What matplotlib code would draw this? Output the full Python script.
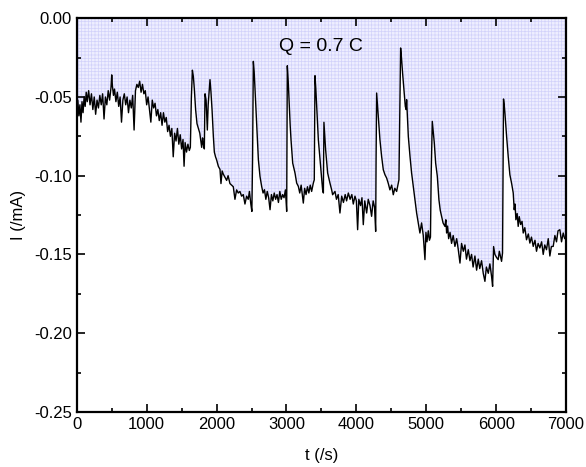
import matplotlib
matplotlib.use("Agg")
import matplotlib.pyplot as plt
from matplotlib.ticker import MultipleLocator

plt.rcParams['font.family'] = ['Liberation Sans', 'DejaVu Sans']
plt.rcParams['hatch.linewidth'] = 0.5

# chronoamperometry trace: time (s) and current (mA)
t = [0, 15, 30, 45, 60, 75, 90, 105, 120, 135, 150, 170, 190, 210, 230, 250,
     270, 290, 310, 330, 350, 370, 390, 410, 430, 450, 470, 490, 500, 510,
     525, 540, 560, 580, 600, 620, 640, 660, 680, 700, 720, 740, 760, 780,
     800, 820, 840, 860, 880, 900, 920, 940, 960, 980, 1000, 1020, 1040,
     1060, 1080, 1100, 1120, 1140, 1160, 1180, 1200, 1220,
     1240, 1260, 1280, 1300, 1320, 1340, 1360, 1380, 1400, 1420, 1440, 1460,
     1480, 1500, 1520, 1535, 1550, 1570, 1590, 1610, 1625, 1640, 1654, 1668,
     1682, 1700, 1720, 1740, 1760, 1787, 1800, 1811, 1825, 1835, 1850, 1868,
     1880, 1906, 1920, 1935, 1954, 1968, 1985, 2001, 2025, 2049, 2063, 2080,
     2096, 2120, 2144, 2165, 2191, 2215, 2239, 2263, 2287, 2310, 2334, 2358,
     2382, 2406, 2430, 2453,
     2470, 2490, 2505, 2515, 2526, 2538, 2550, 2562, 2574, 2586, 2598, 2621,
     2645, 2665, 2685, 2705, 2725, 2745, 2765, 2785, 2805, 2825, 2845, 2865,
     2885, 2905, 2925, 2945, 2965, 2985, 3003, 3012, 3025, 3041, 3053, 3065,
     3089, 3122, 3146, 3170, 3190, 3210, 3241, 3260, 3280, 3300, 3320, 3340,
     3360, 3384, 3398, 3408, 3420, 3432, 3456, 3480, 3503, 3517, 3528, 3536,
     3560, 3589, 3622, 3646, 3660, 3694,
     3715, 3740, 3765, 3790, 3815, 3840, 3860, 3885, 3910, 3935, 3956, 3980,
     4000, 4018, 4035, 4060, 4080, 4099, 4120, 4147, 4170, 4195, 4218, 4240,
     4260, 4276, 4282, 4290, 4300, 4314, 4337, 4361, 4385, 4409, 4433, 4457,
     4480, 4505, 4528, 4550, 4576, 4590, 4609, 4622, 4633, 4645, 4661, 4680,
     4700, 4712, 4719, 4730, 4743, 4767, 4790, 4814, 4838, 4862, 4886, 4909,
     4933, 4957, 4981, 4995, 5010, 5029, 5045, 5060, 5070, 5086, 5100, 5115,
     5134, 5158, 5181, 5200, 5219, 5240, 5267, 5280, 5291, 5305, 5320, 5340,
     5362, 5385, 5410, 5435, 5458, 5482, 5505, 5530, 5553, 5575, 5601, 5625,
     5648, 5670, 5696, 5720, 5744, 5765, 5791, 5815, 5839, 5860, 5887, 5910,
     5934, 5949, 5963, 5982,
     6006, 6029, 6045, 6060, 6077, 6091, 6098, 6105, 6115, 6125, 6149, 6172,
     6196, 6220, 6244, 6258, 6270, 6282, 6300, 6315, 6330, 6350, 6370, 6387,
     6410, 6434, 6460, 6482, 6505, 6530, 6555, 6577, 6600, 6625, 6650, 6673,
     6695, 6720, 6745, 6768, 6790, 6816, 6840, 6863, 6885, 6911, 6935, 6959,
     6980, 7000]

current = [-0.058, -0.052, -0.062, -0.055, -0.066, -0.053, -0.060, -0.050,
           -0.056, -0.047, -0.053, -0.046, -0.055, -0.048, -0.058, -0.050,
           -0.061, -0.052, -0.057, -0.049, -0.055, -0.048, -0.064, -0.050,
           -0.055, -0.046, -0.052, -0.044, -0.036, -0.043, -0.049, -0.045,
           -0.053, -0.047, -0.056, -0.050, -0.066, -0.052, -0.048, -0.055,
           -0.050, -0.060, -0.052, -0.057, -0.049, -0.071, -0.046, -0.042,
           -0.044, -0.040, -0.047, -0.042, -0.048, -0.046, -0.055, -0.050,
           -0.058, -0.066, -0.052, -0.057, -0.054, -0.062, -0.058, -0.065,
           -0.060, -0.068,
           -0.060, -0.066, -0.063, -0.072, -0.068, -0.075, -0.070, -0.088,
           -0.073, -0.078, -0.070, -0.080, -0.074, -0.083, -0.077, -0.094,
           -0.079, -0.085, -0.080, -0.084, -0.082, -0.050, -0.033, -0.037,
           -0.045, -0.058, -0.067, -0.070, -0.073, -0.082, -0.076, -0.080,
           -0.083, -0.048, -0.052, -0.071, -0.055, -0.039, -0.047, -0.058,
           -0.075, -0.085, -0.088, -0.090, -0.094, -0.096, -0.105, -0.097,
           -0.099, -0.101, -0.103, -0.100, -0.105, -0.106, -0.107, -0.115,
           -0.109, -0.111, -0.110, -0.113, -0.112, -0.118, -0.113, -0.115,
           -0.110, -0.118, -0.1227, -0.090, -0.0274, -0.034, -0.0454, -0.058,
           -0.0687, -0.080, -0.0898, -0.1004, -0.1068, -0.1110, -0.1089,
           -0.1150, -0.1100, -0.1140, -0.1216, -0.1120, -0.1160, -0.1110,
           -0.1150, -0.1120, -0.1170, -0.1100, -0.1150, -0.1120, -0.1140,
           -0.1090, -0.1227, -0.0302, -0.040, -0.0560, -0.068, -0.0772,
           -0.0920, -0.0983, -0.1047, -0.1068, -0.1110, -0.1060, -0.1174,
           -0.1080, -0.1120, -0.1070, -0.1110, -0.1060, -0.1100, -0.1047,
           -0.1026, -0.0365, -0.045, -0.0560, -0.0772, -0.0898, -0.1026,
           -0.1089, -0.1110, -0.0661, -0.0835, -0.0983, -0.1047, -0.1089,
           -0.1121, -0.1100,
           -0.1150, -0.1120, -0.1237, -0.1130, -0.1170, -0.1120, -0.1160,
           -0.1110, -0.1150, -0.1120, -0.1180, -0.1130, -0.1160, -0.1343,
           -0.1150, -0.1190, -0.1140, -0.1311, -0.1160, -0.1237, -0.1150,
           -0.1190, -0.1258, -0.1160, -0.1200, -0.1354, -0.090, -0.0475,
           -0.054, -0.0623, -0.0772, -0.0877, -0.0962, -0.0994, -0.1015,
           -0.1050, -0.1090, -0.1060, -0.1121, -0.1080, -0.1100, -0.1068,
           -0.1026, -0.060, -0.0189, -0.025, -0.0348, -0.0454, -0.0560,
           -0.058, -0.0517, -0.062, -0.0750, -0.0877, -0.0983, -0.1068,
           -0.1153, -0.1237, -0.1301, -0.1364,
           -0.1300, -0.1380, -0.1533, -0.1360, -0.1420, -0.1350, -0.1410,
           -0.1390, -0.100, -0.0655, -0.072, -0.0793, -0.0920, -0.1004,
           -0.1153, -0.1220, -0.1258, -0.1300, -0.1322, -0.1280, -0.1364,
           -0.1320, -0.1400, -0.1360, -0.1430, -0.1380, -0.1449, -0.1400,
           -0.1470, -0.1555, -0.1430, -0.1480, -0.1440, -0.1530, -0.1470,
           -0.1540, -0.1500, -0.1580, -0.1510, -0.1600, -0.1530, -0.1590,
           -0.1540, -0.1620, -0.1671, -0.1580, -0.1620, -0.1560, -0.1639,
           -0.1703, -0.1450, -0.1500,
           -0.1520, -0.1533, -0.1480, -0.1510, -0.1544, -0.1491, -0.100,
           -0.0513, -0.055, -0.0602, -0.0750, -0.0877, -0.0994, -0.1047,
           -0.1110, -0.1216, -0.1180, -0.1280, -0.1240, -0.1322, -0.1260,
           -0.1310, -0.1290, -0.1364, -0.1330, -0.1407, -0.1370, -0.1428,
           -0.1390, -0.1449, -0.1410, -0.1480, -0.1430, -0.1459, -0.1420,
           -0.1500, -0.1440, -0.1470, -0.1400, -0.1510, -0.1450, -0.1449,
           -0.1380, -0.1420, -0.1350, -0.1343, -0.1420, -0.1364, -0.1400,
           -0.1390]

charge_label = "Q = 0.7 C"

fig = plt.figure(figsize=(5.86, 4.67), dpi=100)
ax = fig.add_axes([0.131, 0.118, 0.835, 0.843])

# shaded area between the trace and zero current
ax.fill_between(t, current, 0, facecolor='#eeeeff', edgecolor='#d2d2fa',
                hatch='+++++', linewidth=0)
ax.plot(t, current, color='black', linewidth=1.0)

ax.set_xlim(0, 7000)
ax.set_ylim(-0.25, 0.0)
ax.xaxis.set_major_locator(MultipleLocator(1000))
ax.xaxis.set_minor_locator(MultipleLocator(500))
ax.yaxis.set_major_locator(MultipleLocator(0.05))
ax.yaxis.set_minor_locator(MultipleLocator(0.025))
ax.yaxis.set_major_formatter(plt.FuncFormatter(lambda v, p: f"{v:.2f}"))

ax.tick_params(which='both', direction='in', top=True, right=True,
               labelsize=12, width=1.2)
ax.tick_params(which='major', length=6)
ax.tick_params(which='minor', length=3)
for s in ax.spines.values():
    s.set_linewidth(1.6)

ax.set_xlabel("t (/s)", fontsize=12, labelpad=12)
ax.set_ylabel("I (/mA)", fontsize=12, labelpad=6)
ax.text(3500, -0.018, charge_label, fontsize=14, ha='center', va='center')

fig.savefig("out.png", dpi=100)
